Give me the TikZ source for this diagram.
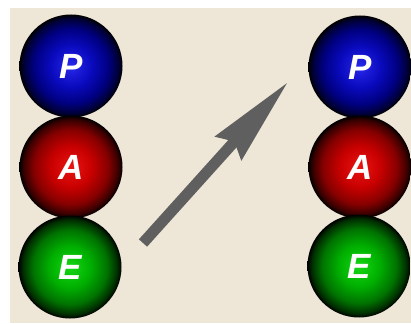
\documentclass[tikz,border=0pt]{standalone}
\usepackage{fontspec}
\setmainfont{Liberation Sans}
\usetikzlibrary{arrows.meta}
\definecolor{bgbeige}{RGB}{238,230,214}
\definecolor{arrowgray}{RGB}{95,95,95}
\definecolor{bA}{RGB}{40,40,235}
\definecolor{bB}{RGB}{10,10,190}
\definecolor{bC}{RGB}{0,0,130}
\definecolor{bD}{RGB}{0,0,55}
\definecolor{rA}{RGB}{235,20,20}
\definecolor{rB}{RGB}{200,0,0}
\definecolor{rC}{RGB}{135,0,0}
\definecolor{rD}{RGB}{55,0,0}
\definecolor{gA}{RGB}{20,215,20}
\definecolor{gB}{RGB}{0,175,0}
\definecolor{gC}{RGB}{0,115,0}
\definecolor{gD}{RGB}{0,45,0}
\pgfdeclareradialshading{blueball}{\pgfpoint{0bp}{0bp}}{color(0bp)=(bA); color(10bp)=(bB); color(18bp)=(bC); color(23bp)=(bD); color(25bp)=(black); color(50bp)=(black)}
\pgfdeclareradialshading{redball}{\pgfpoint{0bp}{0bp}}{color(0bp)=(rA); color(10bp)=(rB); color(18bp)=(rC); color(23bp)=(rD); color(25bp)=(black); color(50bp)=(black)}
\pgfdeclareradialshading{greenball}{\pgfpoint{0bp}{0bp}}{color(0bp)=(gA); color(10bp)=(gB); color(18bp)=(gC); color(23bp)=(gD); color(25bp)=(black); color(50bp)=(black)}
\tikzset{
  ball/.style={circle, minimum size=103pt, inner sep=0pt, text=white,
    font=\fontsize{35}{35}\selectfont\bfseries\itshape},
  pball/.style={ball, shade, shading=blueball},
  aball/.style={ball, shade, shading=redball},
  eball/.style={ball, shade, shading=greenball},
  bigarrow/.style={draw=arrowgray, line width=11pt,
    -{Stealth[length=88pt, width=34pt, inset=8pt, fill=arrowgray]}}
}
\begin{document}
\begin{tikzpicture}[x=1pt,y=1pt]
  \useasboundingbox (0,0) rectangle (411,323);
  \fill[white] (0,0) rectangle (411,323);
  \fill[bgbeige] (10,0) rectangle (411,315);
  \node[pball] (p1) at (71,257) {P};
  \node[aball] (a1) at (71,156) {A};
  \node[eball] (e1) at (70,56) {E};
  \node[pball] (p2) at (360,256) {P};
  \node[aball] (a2) at (360,156) {A};
  \node[eball] (e2) at (359,57) {E};
  \coordinate (tail) at (143,80);
  \coordinate (tip) at (288,241);
  \draw[bigarrow] (tail) -- (tip);
\end{tikzpicture}
\end{document}
